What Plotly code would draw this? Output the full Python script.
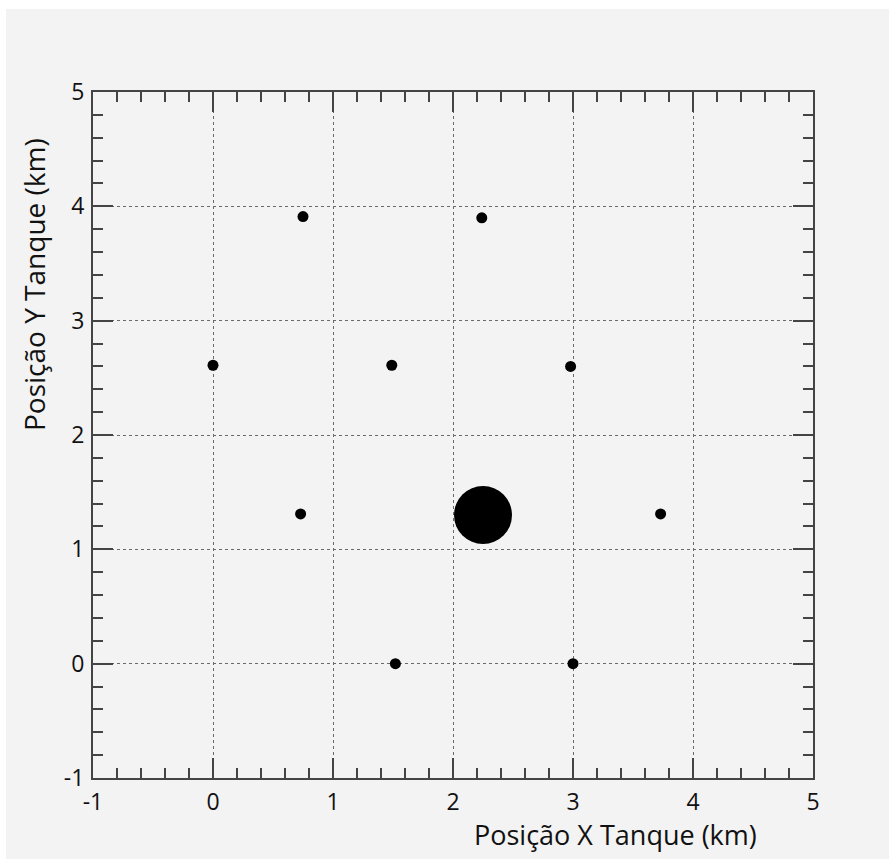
import plotly.graph_objects as go

# Tank positions (km)
tank_x = [0.75, 2.24, 0.0, 1.49, 2.98, 0.73, 3.73, 1.52, 3.0]
tank_y = [3.91, 3.90, 2.61, 2.61, 2.60, 1.31, 1.31, 0.0, 0.0]
# Large marker position (km)
core_x = [2.25]
core_y = [1.30]

x_range = [-1, 5]
y_range = [-1, 5]
tick_vals = [-1, 0, 1, 2, 3, 4, 5]
tick_text = ["-1", "0", "1", "2", "3", "4", "5"]

x_title = "Posição X Tanque (km)"
y_title = "Posição Y Tanque (km)"

W, H = 889, 859
ML, MR, MT, MB = 93, 76, 92, 81
PW = W - ML - MR
PH = H - MT - MB
BG = "#f3f3f3"
AX = "#444444"
FONT = "Open Sans, Noto Sans, sans-serif"

fig = go.Figure()
fig.add_trace(go.Scatter(x=tank_x, y=tank_y, mode="markers",
                         marker=dict(size=11, color="black"), showlegend=False))
fig.add_trace(go.Scatter(x=core_x, y=core_y, mode="markers",
                         marker=dict(size=58, color="black"), showlegend=False))

axis_common = dict(
    tickmode="array", tickvals=tick_vals, ticktext=tick_text,
    ticks="inside", ticklen=20, tickwidth=2, tickcolor=AX,
    showline=True, linecolor=AX, linewidth=2, mirror="allticks",
    showgrid=True, gridcolor="#6a6a6a", griddash="dot", gridwidth=1.2,
    zeroline=False, tickfont=dict(family=FONT, size=23, color="#111"),
    minor=dict(dtick=0.2, ticks="inside", ticklen=10, tickwidth=2, tickcolor=AX, showgrid=False),
    fixedrange=True,
)

xa = dict(axis_common, range=x_range, ticklabelstandoff=2)
ya = dict(axis_common, range=y_range, ticklabelstandoff=2)

fig.update_layout(
    width=W, height=H,
    margin=dict(l=ML, r=MR, t=MT, b=MB, pad=0),
    paper_bgcolor=BG, plot_bgcolor=BG,
    xaxis=xa, yaxis=ya,
    font=dict(family=FONT, color="#111"),
    shapes=[
        dict(type="rect", xref="paper", yref="paper", layer="below",
             x0=-(ML + 5) / PW, x1=(6 - ML) / PW,
             y0=-(MB + 5) / PH, y1=(H - MB + 5) / PH,
             fillcolor="white", line=dict(width=0)),
        dict(type="rect", xref="paper", yref="paper", layer="below",
             x0=-(ML + 5) / PW, x1=(W - ML + 5) / PW,
             y0=(H - 9 - MB) / PH, y1=(H - MB + 5) / PH,
             fillcolor="white", line=dict(width=0)),
    ],
    annotations=[
        dict(text=x_title, xref="paper", yref="paper", x=(615 - ML) / PW,
             y=-(834 - (H - MB)) / PH,
             xanchor="center", yanchor="middle", showarrow=False,
             font=dict(family=FONT, size=27, color="#111")),
        dict(text=y_title, xref="paper", yref="paper", x=-(ML - 34) / PW,
             y=((H - MB) - 285) / PH,
             xanchor="center", yanchor="middle", textangle=-90, showarrow=False,
             font=dict(family=FONT, size=28, color="#111")),
    ],
)

fig.write_html("out.html")
